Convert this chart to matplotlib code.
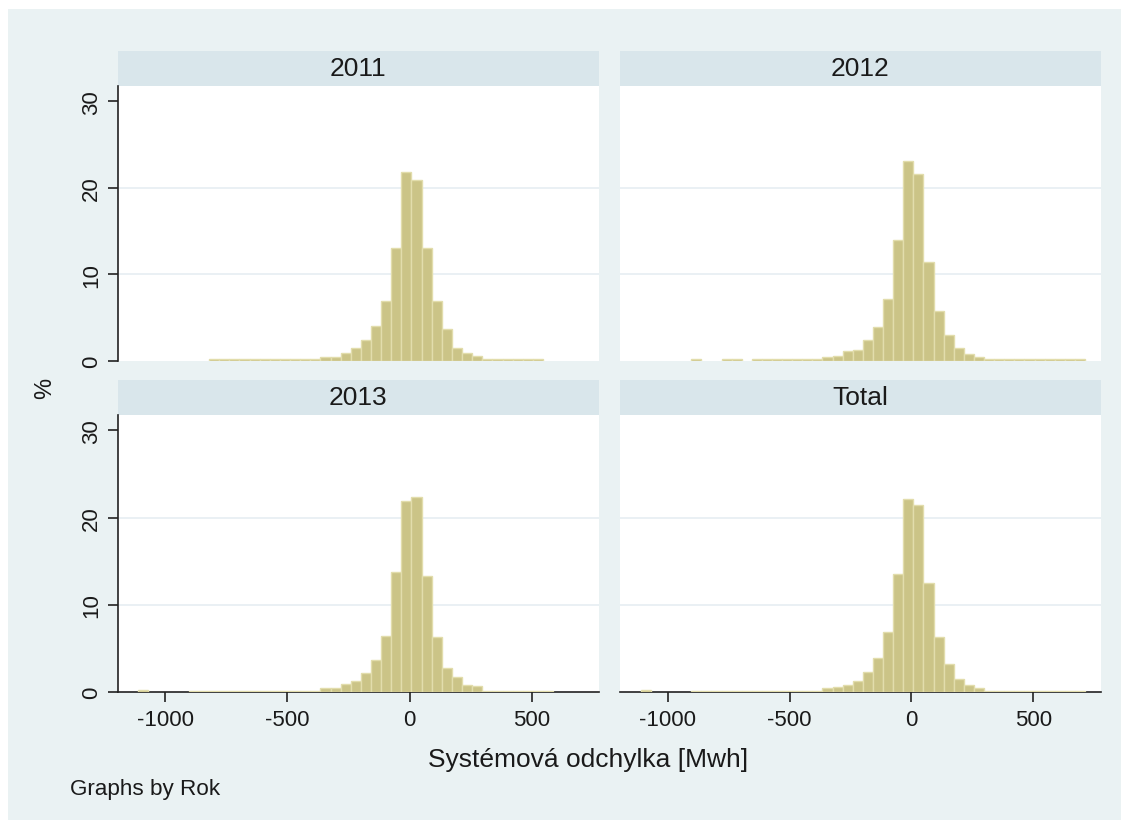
import numpy as np
import matplotlib.pyplot as plt
from matplotlib.patches import Rectangle

plt.rcParams['font.family'] = ['Liberation Sans', 'DejaVu Sans']
plt.rcParams['axes.unicode_minus'] = False

# histogram bins (shared by all panels)
bin_start = -1110.0
bin_width = 41.4

# percent per bin, 44 bins
pct_2011 = ([0] * 7 + [0.15] * 11 + [0.4, 0.4] +
            [0.85, 1.5, 2.4, 4.0, 6.9, 13.0, 21.8, 20.9, 13.0, 6.9, 3.65, 1.5, 0.85, 0.6] +
            [0.15] * 6 + [0] * 4)
pct_2012 = ([0] * 5 + [0.15] + [0, 0] + [0.15, 0.15] + [0] + [0.15] * 7 +
            [0.4, 0.5, 1.08, 1.27, 2.35, 3.85, 7.08, 14.0, 23.07, 21.6, 11.4, 5.77,
             2.96, 1.46, 0.81, 0.45] +
            [0.15] * 10)
pct_2013 = ([0.25] + [0] * 4 + [0.2] * 13 +
            [0.45, 0.45, 0.95, 1.33, 2.18, 3.71, 6.5, 13.8, 21.95, 22.4, 13.3, 6.3,
             2.8, 1.72, 0.87, 0.69] +
            [0.15] * 7 + [0] * 3)
pct_total = ([0.25] + [0] * 4 + [0.18] * 13 +
             [0.48, 0.66, 0.87, 1.33, 2.37, 3.9, 6.9, 13.6, 22.2, 21.5, 12.5, 6.3,
              3.25, 1.53, 0.87, 0.46] +
             [0.15] * 10)

panel_titles = ['2011', '2012', '2013', 'Total']
panel_data = [pct_2011, pct_2012, pct_2013, pct_total]
xticks = [-1000, -500, 0, 500]
yticks = [0, 10, 20, 30]

W, H = 1129, 829
BG = '#EAF2F3'
STRIP = '#D9E6EB'
BAR = '#CBC487'
BAR_EDGE = '#E2DDAC'
GRID = '#E6EEF2'
TXT = '#1a1a1a'

fig = plt.figure(figsize=(W / 100, H / 100), dpi=100, facecolor='white')
fig.patches.append(Rectangle((8 / W, 1 - 821 / H), 1113 / W, 811 / H,
                             transform=fig.transFigure, facecolor=BG,
                             edgecolor='none', zorder=-10))


def px_axes(x0, y0, x1, y1):
    return fig.add_axes([x0 / W, 1 - y1 / H, (x1 - x0) / W, (y1 - y0) / H])


# pixel boxes of the four plot regions (left, top, right, bottom)
boxes = [(117.5, 86.7, 599, 361.7), (620, 86.7, 1100.5, 361.7),
         (117.5, 415.7, 599, 693.3), (620, 415.7, 1100.5, 693.3)]
strip_h = 35

for i, (title, vals, box) in enumerate(zip(panel_titles, panel_data, boxes)):
    ax = px_axes(*box)
    ax.set_facecolor('white')
    vals = np.array(vals, dtype=float)
    lefts = bin_start + bin_width * np.arange(len(vals))
    keep = vals > 0
    ax.bar(lefts[keep], vals[keep], width=bin_width, align='edge', color=BAR,
           edgecolor=BAR_EDGE, linewidth=1.0, zorder=3)
    for t in yticks[1:-1]:
        ax.axhline(t, color=GRID, linewidth=1.2, zorder=1)
    ax.set_xlim(-1195, 775)
    ax.set_ylim(0, 31.8)
    ax.set_xticks(xticks)
    ax.set_yticks(yticks)
    for s in ['top', 'right', 'left', 'bottom']:
        ax.spines[s].set_visible(False)

    left_col = i % 2 == 0
    bottom_row = i >= 2
    if left_col:
        ax.spines['left'].set_visible(True)
        ax.spines['left'].set_color('#222222')
        ax.spines['left'].set_linewidth(1.2)
        ax.tick_params(axis='y', length=7, width=1.2, color='#222222',
                       labelsize=16, labelcolor=TXT, pad=4)
        for lab in ax.get_yticklabels():
            lab.set_rotation(90)
            lab.set_va('center')
    else:
        ax.tick_params(axis='y', left=False, labelleft=False)
    if bottom_row:
        ax.spines['bottom'].set_visible(True)
        ax.spines['bottom'].set_color('#222222')
        ax.spines['bottom'].set_linewidth(1.2)
        ax.tick_params(axis='x', length=7, width=1.2, color='#222222',
                       labelsize=16, labelcolor=TXT, pad=5)
    else:
        ax.tick_params(axis='x', bottom=False, labelbottom=False)

    # strip with panel title
    x0, y0, x1, y1 = box
    ax.add_patch(Rectangle((0, 1), 1, strip_h / (y1 - y0), transform=ax.transAxes,
                           facecolor=STRIP, edgecolor='none', clip_on=False))
    ax.text(0.5, 1 + strip_h / 2 / (y1 - y0), title, transform=ax.transAxes,
            ha='center', va='center', fontsize=19, color=TXT)

fig.text(45 / W, 1 - 388 / H, '%', rotation=90, ha='center', va='center',
         fontsize=17, color=TXT)
fig.text(588 / W, 1 - 760 / H, 'Systémová odchylka [Mwh]', ha='center',
         va='center', fontsize=19, color=TXT)
fig.text(70 / W, 1 - 790 / H, 'Graphs by Rok', ha='left', va='center',
         fontsize=16.2, color=TXT)

fig.savefig('out.png', dpi=100, facecolor=fig.get_facecolor())
